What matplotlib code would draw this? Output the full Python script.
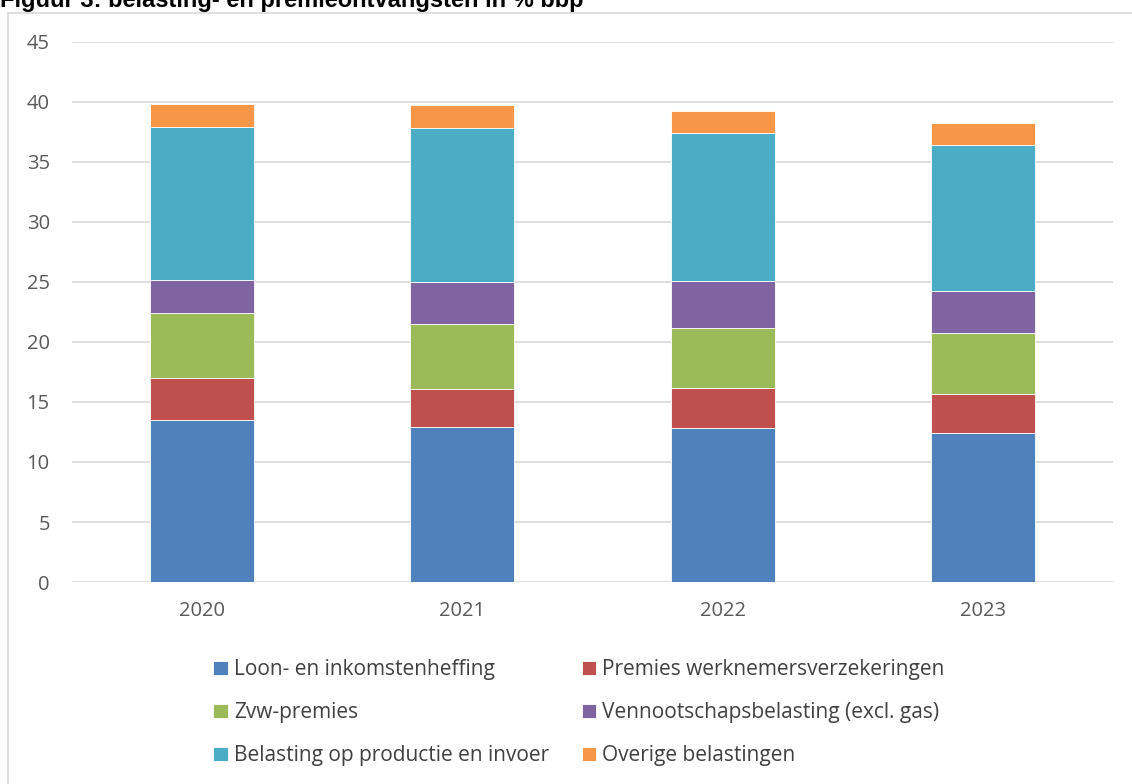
import matplotlib.pyplot as plt
import numpy as np
from matplotlib.patches import Rectangle

# data (% bbp)
years = ["2020", "2021", "2022", "2023"]
loon = [13.47, 12.89, 12.81, 12.39]
premies_wv = [3.50, 3.17, 3.33, 3.28]
zvw = [5.45, 5.41, 5.05, 5.11]
vpb = [2.72, 3.56, 3.87, 3.44]
productie = [12.75, 12.83, 12.36, 12.20]
overige = [1.94, 1.86, 1.80, 1.80]

series = [
    ("Loon- en inkomstenheffing", loon, "#4F81BD"),
    ("Premies werknemersverzekeringen", premies_wv, "#C0504D"),
    ("Zvw-premies", zvw, "#9BBB59"),
    ("Vennootschapsbelasting (excl. gas)", vpb, "#8064A2"),
    ("Belasting op productie en invoer", productie, "#4BACC6"),
    ("Overige belastingen", overige, "#F79646"),
]

plt.rcParams['font.family'] = ['Open Sans', 'DejaVu Sans']

fig = plt.figure(figsize=(11.32, 7.84), dpi=100)
W, H = 1132, 784

# frame around the chart
fig.patches.append(Rectangle((8 / W, -0.05), 1.2, 1 - 13 / H + 0.05,
                             transform=fig.transFigure, fill=False,
                             edgecolor="#d9d9d9", linewidth=1.2))

# title (partly cut off at the top, as in the source)
fig.text(0.0, 1 - 7 / H, "Figuur 3: belasting- en premieontvangsten in % bbp",
         family="Liberation Sans", fontweight="bold", fontsize=17,
         color="black", ha="left", va="baseline")

ax = fig.add_axes([72 / W, 1 - 582 / H, (1113 - 72) / W, (582 - 42) / H])

x = np.arange(len(years))
bottom = np.zeros(len(years))
handles = {}
for name, vals, col in series:
    b = ax.bar(x, vals, width=0.4, bottom=bottom, color=col,
               edgecolor="white", linewidth=0.6, label=name, zorder=3)
    handles[name] = b
    bottom += np.array(vals)

ax.set_xlim(-0.5, len(years) - 0.5)
ax.set_ylim(0, 45)
ax.set_yticks(np.arange(0, 46, 5))
ax.set_xticks(x)
ax.set_xticklabels(years)
ax.yaxis.grid(True, color="#d9d9d9", linewidth=1.2, zorder=0)
ax.set_axisbelow(True)
for s in ax.spines.values():
    s.set_visible(False)
ax.tick_params(axis="both", length=0, labelsize=14.5, colors="#595959")
ax.tick_params(axis="y", pad=16)
ax.tick_params(axis="x", pad=14)

# legend: row order as in the source, matplotlib fills column-wise
order = [0, 2, 4, 1, 3, 5]
names = [series[i][0] for i in order]
fig.legend([handles[n] for n in names], names, ncol=2,
           loc="upper left", bbox_to_anchor=(205 / W, 1 - 651 / H),
           frameon=False, fontsize=15.0, labelcolor="#404040",
           handlelength=0.7, handleheight=0.7, handletextpad=0.3,
           labelspacing=1.05, columnspacing=1.55, borderaxespad=0)

fig.savefig("out.png", dpi=100)
